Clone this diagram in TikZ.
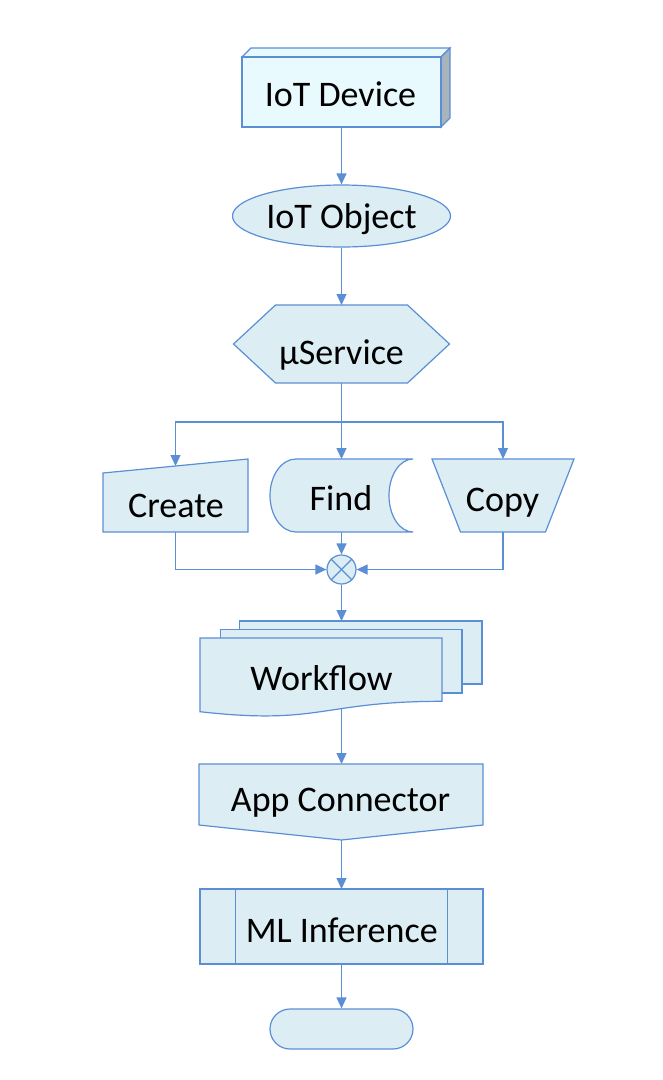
\documentclass[tikz,border=0pt]{standalone}
\usepackage{fontspec}
\setmainfont{Carlito}
\usetikzlibrary{arrows.meta,shapes.geometric,calc}
\definecolor{lnc}{HTML}{5B8FD5}
\definecolor{flc}{HTML}{DCEDF3}
\definecolor{devc}{HTML}{E8FAFE}
\definecolor{sidec}{HTML}{A9B3BB}
\begin{document}
\begin{tikzpicture}[x=1pt,y=-1pt,line width=1.2pt,
  shp/.style={draw=lnc,fill=flc,line join=miter},
  bb/.style={inner sep=0pt,outer sep=0pt,draw=none,rectangle},
  lbl/.style={font=\fontsize{36}{40}\selectfont,inner sep=0pt,anchor=base,text=black},
  arr/.style={draw=lnc,-{Triangle[length=11pt,width=10pt]}},
  conn/.style={draw=lnc}]
\useasboundingbox (0,0) rectangle (662,1080);

% IoT Device (3D box)
\node[bb,minimum width=199,minimum height=70] (dev) at (341.5,92) {};
\draw[draw=lnc,fill=devc,line join=miter] (dev.north west) -- ++(9,-9) -- ($(dev.north east)+(9,-9)$) -- (dev.north east) -- cycle;
\draw[draw=lnc,fill=sidec,line join=miter] (dev.north east) -- ++(9,-9) -- ($(dev.south east)+(9,-9)$) -- (dev.south east) -- cycle;
\draw[draw=lnc,fill=devc] (dev.north west) rectangle (dev.south east);
\node[lbl] (devt) at (340.5,106.5) {IoT Device};

% IoT Object
\node[ellipse,shp,inner sep=0pt,minimum width=218,minimum height=62] (obj) at (341.5,216) {};
\node[lbl] (objt) at (341.5,228) {IoT Object};
\draw[arr] (dev.south) -- (obj.north);

% microservice hexagon
\node[bb,minimum width=216,minimum height=78] (svc) at (341.5,344) {};
\draw[shp] (233.5,344) -- (275.5,305) -- (407.5,305) -- (449.5,344) -- (407.5,383) -- (275.5,383) -- cycle;
\node[lbl] (svct) at (341.5,364) {µService};
\draw[arr] (obj.south) -- (svc.north);

% Create (manual input)
\node[bb,minimum width=145,minimum height=73] (create) at (175.5,495.5) {};
\draw[shp] (103,473) -- (248,459) -- (248,532) -- (103,532) -- cycle;
\node[lbl] (createt) at (176,517.5) {Create};

% Find (stored data)
\node[bb,minimum width=143,minimum height=73] (find) at (341.5,495.5) {};
\draw[shp] (296,459) -- (413,459)
  .. controls (399.7,459) and (389,475.3) .. (389,495.5)
  .. controls (389,515.7) and (399.7,532) .. (413,532)
  -- (296,532)
  .. controls (281.6,532) and (270,515.7) .. (270,495.5)
  .. controls (270,475.3) and (281.6,459) .. (296,459) -- cycle;
\node[lbl] (findt) at (341,510.7) {Find};

% Copy (manual operation)
\node[bb,minimum width=142,minimum height=73] (copy) at (503,495.5) {};
\draw[shp] (432,459) -- (574,459) -- (545.5,532) -- (460.5,532) -- cycle;
\node[lbl] (copyt) at (502.5,511.7) {Copy};

% branch
\coordinate (br) at (341.5,422);
\draw[conn] (svc.south) -- (br);
\draw[arr] (br) -| ([yshift=-7pt]create.north);
\draw[arr] (br) -- (find.north);
\draw[arr] (br) -| (copy.north);

% summing junction
\node[circle,shp,inner sep=0pt,minimum size=29] (sum) at (341.5,569.5) {};
\draw[conn] (sum.north east) -- (sum.south west);
\draw[conn] (sum.north west) -- (sum.south east);
\draw[arr] (create.south) |- (sum.west);
\draw[arr] (find.south) -- (sum.north);
\draw[arr] (copy.south) |- (sum.east);

% Workflow (multi document)
\node[bb,minimum width=282,minimum height=91] (wf) at (341,666.5) {};
\draw[shp] (239.5,621) rectangle (482,684);
\draw[shp] (220.5,629.5) rectangle (462,693);
\draw[shp] (200,638) -- (442,638) -- (442,701.3)
  .. controls (321,701.3) and (321,725.4) .. (200,711.7) -- cycle;
\node[lbl] (wft) at (321.5,690) {Workflow};
\coordinate (wfout) at (341.5,708.6);
\draw[arr] (sum.south) -- (wf.north -| sum.south);

% App Connector (off-page connector)
\node[bb,minimum width=283,minimum height=76] (app) at (341.5,802) {};
\draw[shp] (199,764) -- (483,764) -- (483,825) -- (341.5,840) -- (199,825) -- cycle;
\node[lbl] (appt) at (340.5,811) {App Connector};
\draw[arr] (wfout) -- (app.north);

% ML Inference (predefined process)
\node[bb,minimum width=283,minimum height=75] (ml) at (341.5,926.5) {};
\draw[shp] (ml.north west) rectangle (ml.south east);
\draw[conn] (235.7,889) -- (235.7,964);
\draw[conn] (447.7,889) -- (447.7,964);
\node[lbl] (mlt) at (341.7,942.7) {ML Inference};
\draw[arr] (app.south) -- (ml.north);

% Terminator
\node[shp,rectangle,rounded corners=20pt,inner sep=0pt,minimum width=143,minimum height=40] (term) at (341.5,1029) {};
\draw[arr] (ml.south) -- (term.north);
\end{tikzpicture}
\end{document}
